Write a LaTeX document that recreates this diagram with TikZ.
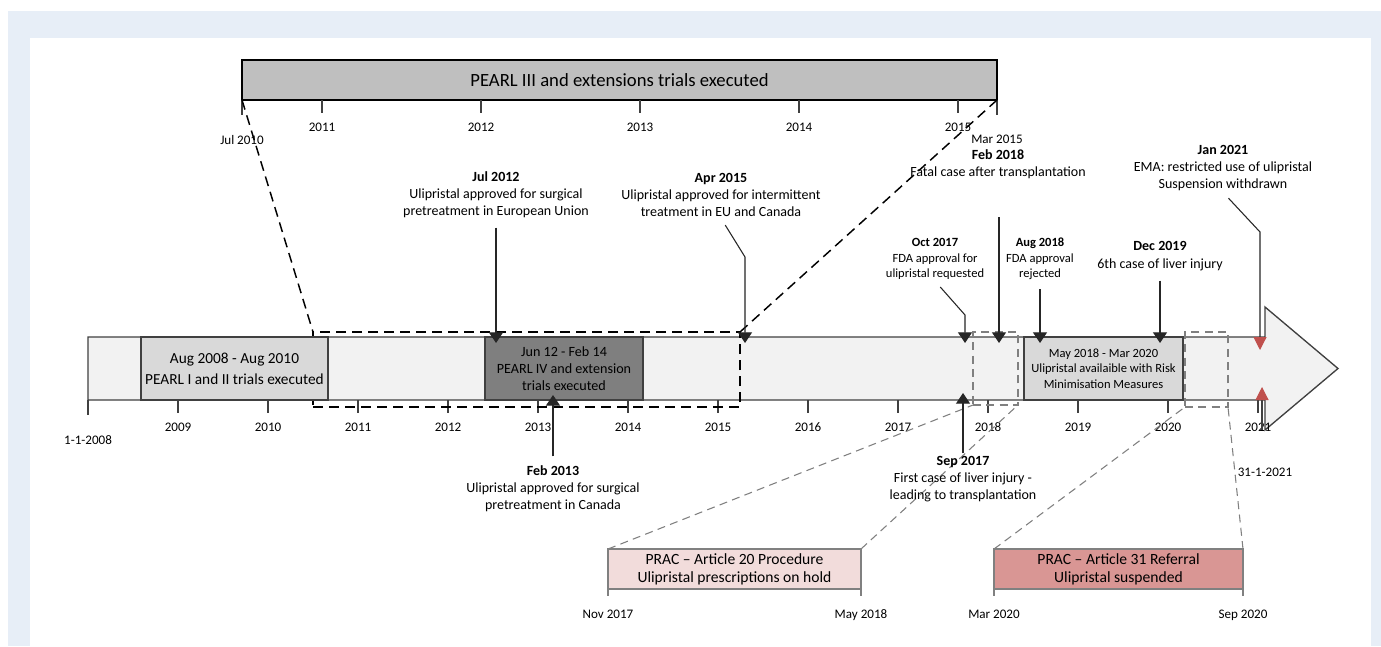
\documentclass[tikz,border=0pt]{standalone}
\usepackage{fontspec}
\setmainfont{Carlito}
\usetikzlibrary{positioning,calc,arrows.meta}
\definecolor{pageblue}{RGB}{231,238,247}
\definecolor{edge}{RGB}{64,64,64}
\definecolor{barfill}{RGB}{242,242,242}
\definecolor{lightbox}{RGB}{217,217,217}
\definecolor{darkbox}{RGB}{127,127,127}
\definecolor{topbox}{RGB}{191,191,191}
\definecolor{holdpink}{RGB}{242,220,219}
\definecolor{suspred}{RGB}{217,150,148}
\definecolor{markred}{RGB}{192,80,77}

\begin{document}
\begin{tikzpicture}[x=0.75pt,y=-0.75pt,font=\fontsize{10.5}{12.75}\selectfont,
    >={Triangle[width=10.5pt,length=8pt]},
    b/.style={draw=edge,line width=1pt,inner sep=0pt,outer sep=0pt,align=center,anchor=north west},
    wh/.style 2 args={minimum width=#1*0.75pt,minimum height=#2*0.75pt},
    ev/.style={align=center,inner sep=1pt},
    sm/.style={font=\fontsize{9.4}{11.5}\selectfont},
    co/.style={->,draw=black!85,line width=0.8pt,shorten <=6pt},
    tk/.style={draw=edge,line width=0.8pt},
    yl/.style={font=\fontsize{9.8}{11}\selectfont,inner sep=0pt},
    zk/.style={draw=black,line width=1.1pt,dash pattern=on 7.5pt off 4.5pt},
    zg/.style={draw=gray,line width=0.8pt,dash pattern=on 6pt off 4pt}]

  \useasboundingbox (0,0) rectangle (1381,646);
  \fill[pageblue] (8,11) rectangle (1381,646);
  \fill[white] (30,38) rectangle (1371,646);

  % PEARL III window
  \node[b,draw=black,fill=topbox,wh={755}{40},font=\fontsize{14}{16}\selectfont] (p3) at (242,60) {PEARL III and extensions trials executed};
  \draw[tk] (p3.south west) -- ++(0,15) coordinate (p3l);
  \draw[tk] (p3.south east) -- ++(0,15) coordinate (p3r);
  \foreach \yr in {2011,...,2015}
    \draw[tk] ({322+159*(\yr-2011)},100) -- ++(0,13) node[yl,below=7pt] (u\yr) {\yr};
  \node[yl,below=15pt of p3l] (jul10) {Jul 2010};
  \node[yl,below=15pt of p3r] (mar15) {Mar 2015};

  % main time line
  \draw[draw=edge,fill=barfill,line width=1pt] (88,337) -- (1265,337) -- (1265,307) -- (1338,368.5)
    -- (1265,430) -- (1265,400) -- (88,400) -- cycle;
  \draw[tk] (88,400) -- ++(0,15) coordinate (s08);
  \node[yl,below=15pt of s08] (d08) {1-1-2008};
  \foreach \yr in {2009,...,2021}
    \draw[tk] ({88+90*(\yr-2008)},400) -- ++(0,13) node[yl,below=7pt] (y\yr) {\yr};

  % zoom windows
  \node[b,zk,wh={427}{75}] (z1) at (313,332) {};
  \node[b,zg,wh={45}{73}] (z2) at (973,332) {};
  \node[b,zg,wh={43}{75}] (z3) at (1185,332) {};
  \draw[zk] (p3.south west) -- (z1.north west);
  \draw[zk] (p3.south east) -- (z1.north east);

  % periods
  \node[b,fill=lightbox,wh={187}{63},font=\fontsize{11.5}{15.75}\selectfont] (pI) at (141,337) {Aug 2008 - Aug 2010\\PEARL I and II trials executed};
  \node[b,fill=darkbox,wh={158}{63},font=\fontsize{10.6}{13}\selectfont] (pIV) at (485,337) {Jun 12 - Feb 14\\PEARL IV and extension\\trials executed};
  \node[b,fill=lightbox,wh={159}{63},font=\fontsize{9.4}{11.6}\selectfont] (rmm) at (1024,337) {May 2018 - Mar 2020\\Ulipristal availaible with Risk\\Minimisation Measures};

  % PRAC procedures
  \node[b,draw=gray,fill=holdpink,wh={253}{40},font=\fontsize{11.7}{13.5}\selectfont] (a20) at (608,549) {PRAC -- Article 20 Procedure\\Ulipristal prescriptions on hold};
  \node[b,draw=gray,fill=suspred,wh={249}{40},font=\fontsize{11.7}{13.5}\selectfont] (a31) at (994,549) {PRAC -- Article 31 Referral\\Ulipristal suspended};
  \draw[zg] (a20.north west) -- (z2.south west);
  \draw[zg] (a20.north east) -- (z2.south east);
  \draw[zg] (a31.north west) -- (z3.south west);
  \draw[zg] (a31.north east) -- (z3.south east);
  \foreach \n/\l/\r in {a20/Nov 2017/May 2018,a31/Mar 2020/Sep 2020}{
    \draw[tk,draw=gray] (\n.south west) -- ++(0,7) node[yl,below=10pt] (\n-l) {\l};
    \draw[tk,draw=gray] (\n.south east) -- ++(0,7) node[yl,below=10pt] (\n-r) {\r};
  }

  % events
  \node[ev] (jul12) at (496,195) {\textbf{Jul 2012}\\Ulipristal approved for surgical\\pretreatment in European Union};
  \node[ev] (apr15) at (721,195) {\textbf{Apr 2015}\\Ulipristal approved for intermittent\\treatment in EU and Canada};
  \node[ev] (feb13) at (553,489) {\textbf{Feb 2013}\\Ulipristal approved for surgical\\pretreatment in Canada};
  \node[ev,sm] (oct17) at (935,259) {\textbf{Oct 2017}\\FDA approval for\\ulipristal requested};
  \node[ev] (feb18) at (998,164) {\textbf{Feb 2018}\\Fatal case after transplantation};
  \node[ev,sm] (aug18) at (1040,259) {\textbf{Aug 2018}\\FDA approval\\rejected};
  \node[ev,font=\fontsize{10.5}{14}\selectfont] (dec19) at (1160,256) {\textbf{Dec 2019}\\6th case of liver injury};
  \node[ev] (sep17) at (963,479) {\textbf{Sep 2017}\\First case of liver injury -\\leading to transplantation};
  \node[ev] (jan21) at (1223,168) {\textbf{Jan 2021}\\EMA: restricted use of ulipristal\\Suspension withdrawn};
  \node[yl] (d21) at (1265,472) {31-1-2021};

  \coordinate (pjul12) at (496,343);
  \coordinate (papr15) at (745,343);
  \coordinate (pfeb13) at (553,395);
  \coordinate (poct17) at (965,343);
  \coordinate (pfeb18) at (999,343);
  \coordinate (paug18) at (1040,343);
  \coordinate (pdec19) at (1160,343);
  \coordinate (psep17) at (963,393);
  \coordinate (pjan21) at (1260,350);
  \coordinate (e21) at (1262,430);
  \coordinate (pe21) at (1262,387);

  \draw[co] (jul12.south) -- (pjul12);
  \draw[co] (apr15.south) -- ($(papr15)+(0,-86)$) -- (papr15);
  \draw[co] (feb13.north) -- (pfeb13);
  \draw[co] (oct17.south) -- ($(poct17)+(0,-28)$) -- (poct17);
  \draw[co,shorten <=28pt] (pfeb18 |- feb18.south) -- (pfeb18);
  \draw[co] (aug18.south) -- (paug18);
  \draw[co] (dec19.south) -- (pdec19);
  \draw[co,shorten <=1pt] (sep17.north) -- (psep17);
  \draw[co,-{Triangle[width=9.75pt,length=9.75pt,color=markred]}] (jan21.south) -- ($(pjan21)+(0,-118)$) -- (pjan21);
  \draw[tk,-{Triangle[width=9.75pt,length=9.75pt,color=markred]}] (e21) -- (pe21);
\end{tikzpicture}
\end{document}
